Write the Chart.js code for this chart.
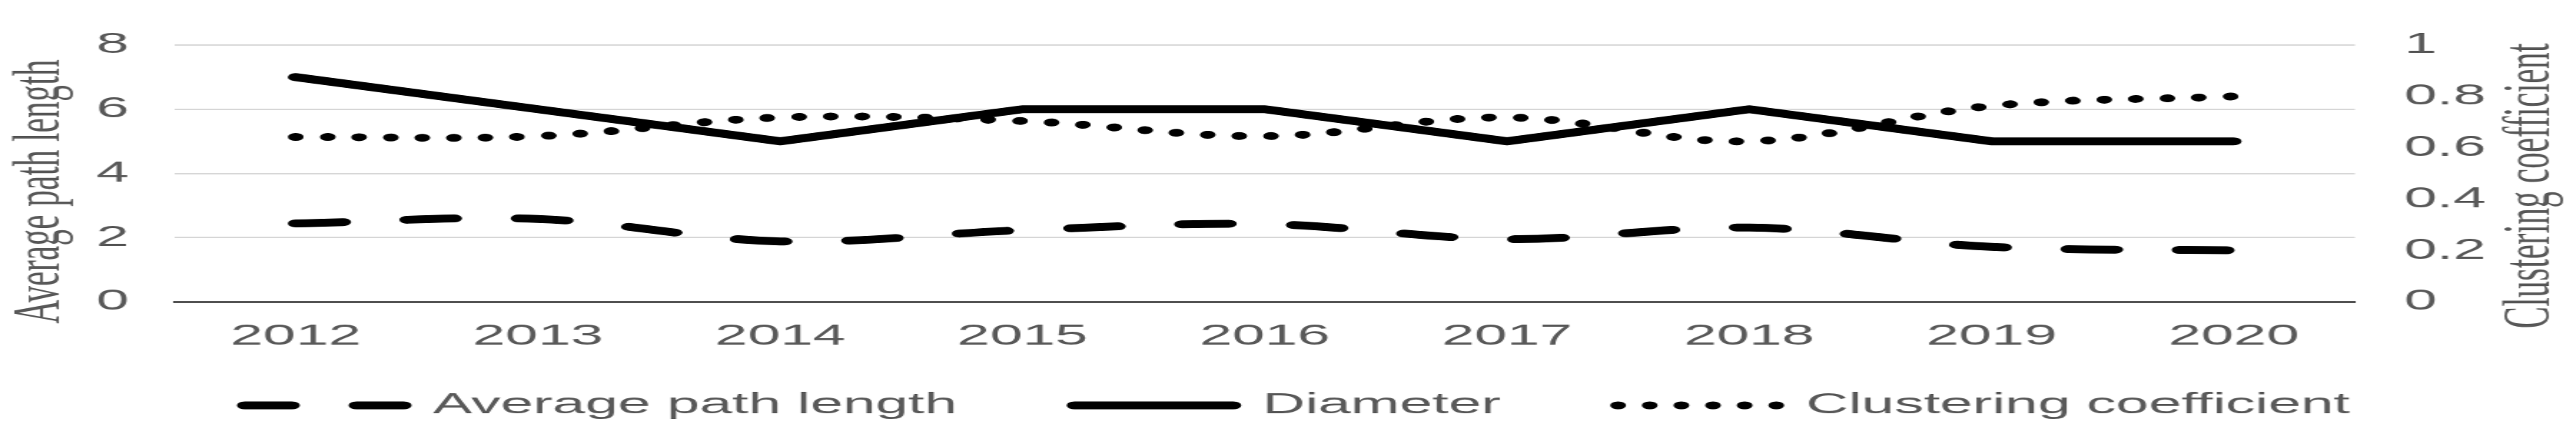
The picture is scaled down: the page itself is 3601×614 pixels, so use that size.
<!DOCTYPE html>
<html>
<head>
<meta charset="utf-8">
<script src="https://cdn.jsdelivr.net/npm/chart.js@4.4.0/dist/chart.umd.min.js"></script>
<style>
  html, body { margin: 0; padding: 0; background: #ffffff; overflow: hidden; }
  #wrap { width: 1800px; height: 614px; transform: scaleX(2.000556); transform-origin: 0 0; }
  #c { display: block; }
</style>
</head>
<body>
<div id="wrap"><canvas id="c" width="1800" height="614" style="width:1800px;height:614px"></canvas></div>
<script>
// ---- data ----
const categories = ['2012', '2013', '2014', '2015', '2016', '2017', '2018', '2019', '2020'];
const averagePathLength = [2.44, 2.58, 1.88, 2.23, 2.42, 1.95, 2.31, 1.71, 1.60];
const diameter = [7, 6, 5, 6, 6, 5, 6, 5, 5];
const clusteringCoefficient = [0.642, 0.645, 0.718, 0.704, 0.645, 0.718, 0.625, 0.763, 0.80];
const leftTicks = [0, 2, 4, 6, 8];
const rightTicks = [0, 0.2, 0.4, 0.6, 0.8, 1];
const seriesNames = ['Average path length', 'Diameter', 'Clustering coefficient'];
const axisTitles = ['Average path length', 'Clustering coefficient'];

// ---- style ----
const TEXT = '#595959';
const SANS = "'Liberation Sans', Arial, sans-serif";
const SERIF = "'Liberation Serif', 'Times New Roman', serif";
const LEGEND_TOP = 464.5;

const sideTitles = {
  id: 'sideTitles',
  afterLayout(chart) {
    const lg = chart.legend;
    if (lg) { lg.top = LEGEND_TOP; lg.bottom = chart.height; lg.height = lg.bottom - lg.top; }
  },
  afterDraw(chart) {
    const ctx = chart.ctx;
    const items = [
      [chart.scales.y, 28.5, 268],
      [chart.scales.y1, 1768.5, 260]
    ];
    ctx.save();
    ctx.fillStyle = TEXT;
    ctx.font = '46px ' + SERIF;
    ctx.textAlign = 'center';
    ctx.textBaseline = 'middle';
    items.forEach(([s, x, y]) => {
      ctx.save();
      ctx.translate(x, y);
      ctx.rotate(-Math.PI / 2);
      ctx.fillText(s.options.title.text, 0, 0);
      ctx.restore();
    });
    ctx.restore();
  }
};

const lineStyle = {
  borderColor: '#000000',
  backgroundColor: 'rgba(0,0,0,0)',
  borderWidth: 11,
  borderCapStyle: 'round',
  borderJoinStyle: 'round',
  pointRadius: 0,
  pointHoverRadius: 0,
  pointStyle: 'line'
};

new Chart(document.getElementById('c'), {
  type: 'line',
  data: {
    labels: categories,
    datasets: [
      Object.assign({ label: seriesNames[0], data: averagePathLength, yAxisID: 'y', borderDash: [33, 45], tension: 0.35 }, lineStyle),
      Object.assign({ label: seriesNames[1], data: diameter, yAxisID: 'y', borderDash: [], tension: 0 }, lineStyle),
      Object.assign({ label: seriesNames[2], data: clusteringCoefficient, yAxisID: 'y1', borderDash: [0.01, 22.1], tension: 0.35 }, lineStyle)
    ]
  },
  options: {
    responsive: false,
    animation: false,
    devicePixelRatio: 1,
    layout: { padding: { left: 20, right: 7, top: 63, bottom: 0 } },
    plugins: {
      tooltip: { enabled: false },
      title: { display: false },
      legend: {
        position: 'bottom',
        maxHeight: 112,
        labels: {
          usePointStyle: true,
          pointStyleWidth: 111,
          padding: 82,
          color: TEXT,
          font: { family: SANS, size: 41 },
          generateLabels(chart) {
            const items = Chart.defaults.plugins.legend.labels.generateLabels(chart);
            items.forEach(it => {
              const ds = chart.data.datasets[it.datasetIndex];
              it.lineDash = ds.borderDash || [];
              it.lineCap = ds.borderCapStyle;
              it.lineJoin = ds.borderJoinStyle;
              it.lineWidth = ds.borderWidth;
              it.strokeStyle = ds.borderColor;
              it.fillStyle = 'rgba(0,0,0,0)';
              it.pointStyle = 'line';
              it.fontColor = TEXT;
            });
            return items;
          }
        }
      }
    },
    scales: {
      x: {
        offset: true,
        grid: { display: false, drawTicks: false },
        border: { display: true, color: '#595959', width: 3 },
        ticks: { color: TEXT, font: { family: SANS, size: 41 }, padding: 24.4, maxRotation: 0, autoSkip: false },
        afterFit(s) { s.height = 80; }
      },
      y: {
        position: 'left',
        min: 0,
        max: 8,
        title: { display: false, text: axisTitles[0] },
        grid: {
          drawTicks: false,
          lineWidth: 2,
          color: (c) => (c.tick && c.tick.value === 0) ? 'rgba(0,0,0,0)' : '#d9d9d9'
        },
        border: { display: false },
        ticks: { color: TEXT, font: { family: SANS, size: 41 }, padding: 32, callback: (v) => String(v) },
        afterBuildTicks(s) { s.ticks = leftTicks.map(v => ({ value: v })); },
        afterFit(s) { s.width = 102; }
      },
      y1: {
        position: 'right',
        min: 0,
        max: 1,
        title: { display: false, text: axisTitles[1] },
        grid: { display: false, drawTicks: false },
        border: { display: false },
        ticks: { color: TEXT, font: { family: SANS, size: 41 }, padding: 34.5, callback: (v) => String(Math.round(v * 10) / 10) },
        afterBuildTicks(s) { s.ticks = rightTicks.map(v => ({ value: v })); },
        afterFit(s) { s.width = 147.5; }
      }
    }
  },
  plugins: [sideTitles]
});
</script>
</body>
</html>
